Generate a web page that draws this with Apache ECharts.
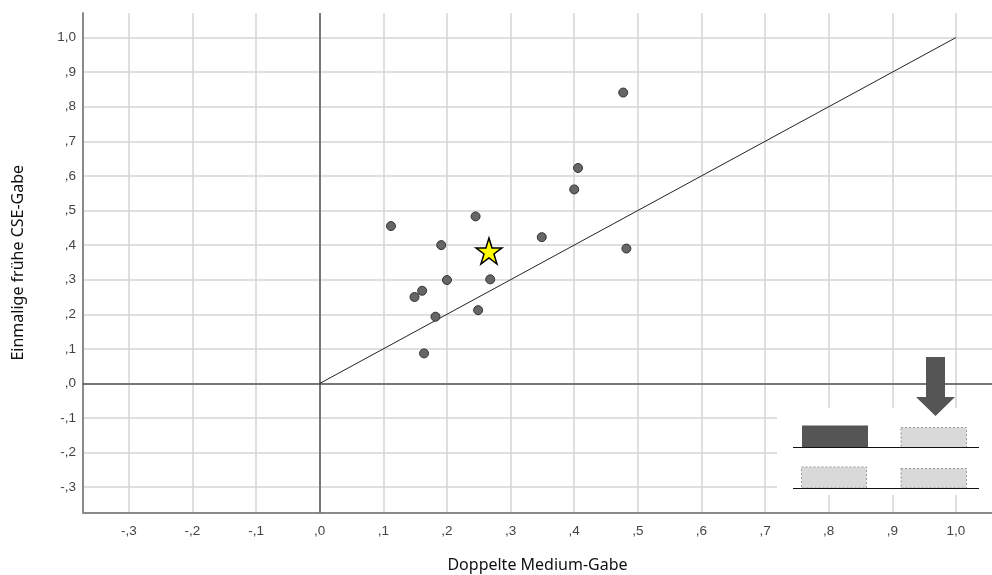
<!DOCTYPE html>
<html>
<head>
<meta charset="utf-8">
<script src="https://cdn.jsdelivr.net/npm/echarts@6/dist/echarts.min.js"></script>
<style>html,body{margin:0;padding:0;background:#fff}#c{width:992px;height:575px}</style>
</head>
<body>
<div id="c"></div>
<script>
// ---- data ----
var pointsX = [0.477, 0.406, 0.400, 0.245, 0.112, 0.349, 0.191, 0.482, 0.200, 0.268, 0.161, 0.149, 0.249, 0.182, 0.164];
var pointsY = [0.841, 0.623, 0.561, 0.483, 0.455, 0.423, 0.400, 0.390, 0.299, 0.301, 0.268, 0.250, 0.212, 0.193, 0.087];
var starX = [0.266];
var starY = [0.383];
var diagX = [0, 1];
var diagY = [0, 1];
var xTicks = [-0.3, -0.2, -0.1, 0, 0.1, 0.2, 0.3, 0.4, 0.5, 0.6, 0.7, 0.8, 0.9, 1.0];
var xTickLabels = ['-,3', '-,2', '-,1', ',0', ',1', ',2', ',3', ',4', ',5', ',6', ',7', ',8', ',9', '1,0'];
var yTicks = [-0.3, -0.2, -0.1, 0, 0.1, 0.2, 0.3, 0.4, 0.5, 0.6, 0.7, 0.8, 0.9, 1.0];
var yTickLabels = ['-,3', '-,2', '-,1', ',0', ',1', ',2', ',3', ',4', ',5', ',6', ',7', ',8', ',9', '1,0'];
var xName = 'Doppelte Medium-Gabe';
var yName = 'Einmalige frühe CSE-Gabe';

function labelFor(ticks, labels) {
  return function (v) {
    for (var i = 0; i < ticks.length; i++) if (Math.abs(ticks[i] - v) < 1e-6) return labels[i];
    return '';
  };
}
function zip(a, b) { return a.map(function (v, i) { return [v, b[i]]; }); }

var chart = echarts.init(document.getElementById('c'), null, { renderer: 'canvas' });
var tickFont = { color: '#444', fontSize: 13.5, fontFamily: 'Liberation Sans, Arial, sans-serif' };
var nameFont = { color: '#111', fontSize: 16, fontFamily: 'Noto Sans, Open Sans, sans-serif' };

chart.setOption({
  animation: false,
  grid: { left: 83, right: 0, top: 13, bottom: 62.5, containLabel: false, outerBoundsMode: 'none' },
  xAxis: {
    type: 'value', min: -0.372, max: 1.0566,
    name: xName, nameLocation: 'middle', nameGap: 45, nameTextStyle: nameFont,
    axisLine: { show: true, onZero: false, lineStyle: { color: '#8a8a8a', width: 2 } },
    axisTick: { show: false, customValues: xTicks },
    axisLabel: Object.assign({ customValues: xTicks, formatter: labelFor(xTicks, xTickLabels), margin: 12 }, tickFont),
    splitLine: { show: true, lineStyle: { color: '#d4d4d4', width: 1.5 } }
  },
  yAxis: {
    type: 'value', min: -0.373, max: 1.071,
    name: yName, nameLocation: 'middle', nameGap: 57, nameTextStyle: nameFont,
    axisLine: { show: true, onZero: false, lineStyle: { color: '#8a8a8a', width: 2 } },
    axisTick: { show: false, customValues: yTicks },
    axisLabel: Object.assign({ customValues: yTicks, formatter: labelFor(yTicks, yTickLabels), margin: 7 }, tickFont),
    splitLine: { show: true, lineStyle: { color: '#d4d4d4', width: 1.5 } }
  },
  series: [
    {
      type: 'line', data: zip(diagX, diagY), symbol: 'none', silent: true, z: 3,
      lineStyle: { color: '#222', width: 1 },
      markLine: {
        silent: true, symbol: 'none', label: { show: false }, z: 2,
        lineStyle: { color: '#555', width: 1.5, type: 'solid' },
        data: [{ xAxis: 0 }, { yAxis: 0 }]
      }
    },
    {
      type: 'scatter', data: zip(pointsX, pointsY), symbol: 'circle', symbolSize: 9, z: 4,
      itemStyle: { color: '#666', borderColor: '#333', borderWidth: 1, opacity: 1 }
    },
    {
      type: 'scatter', data: zip(starX, starY), z: 5,
      symbol: 'path://M50,0 L61.8,36.2 L100,36.2 L69.1,58.6 L80.9,95.1 L50,72.7 L19.1,95.1 L30.9,58.6 L0,36.2 L38.2,36.2 Z',
      symbolSize: 26,
      itemStyle: { color: '#ffff00', borderColor: '#000', borderWidth: 1.5, opacity: 1 }
    }
  ],
  graphic: [
    { type: 'rect', z: 100, shape: { x: 777, y: 408, width: 215, height: 87 }, style: { fill: '#fff' } },
    { type: 'polygon', z: 101, shape: { points: [[926, 357], [945, 357], [945, 397], [955, 397], [935.5, 416], [916, 397], [926, 397]] }, style: { fill: '#555' } },
    { type: 'rect', z: 101, shape: { x: 802, y: 425.5, width: 66, height: 22 }, style: { fill: '#555' } },
    { type: 'rect', z: 101, shape: { x: 901, y: 427.5, width: 65.5, height: 20 }, style: { fill: '#d9d9d9', stroke: '#999', lineWidth: 1, lineDash: [2, 2] } },
    { type: 'line', z: 102, shape: { x1: 793, y1: 447.5, x2: 979, y2: 447.5 }, style: { stroke: '#111', lineWidth: 1 } },
    { type: 'rect', z: 101, shape: { x: 801.5, y: 467, width: 65, height: 21 }, style: { fill: '#d9d9d9', stroke: '#999', lineWidth: 1, lineDash: [2, 2] } },
    { type: 'rect', z: 101, shape: { x: 901, y: 468.5, width: 65.5, height: 19.5 }, style: { fill: '#d9d9d9', stroke: '#999', lineWidth: 1, lineDash: [2, 2] } },
    { type: 'line', z: 102, shape: { x1: 793, y1: 488.5, x2: 979, y2: 488.5 }, style: { stroke: '#111', lineWidth: 1 } }
  ]
});
</script>
</body>
</html>
